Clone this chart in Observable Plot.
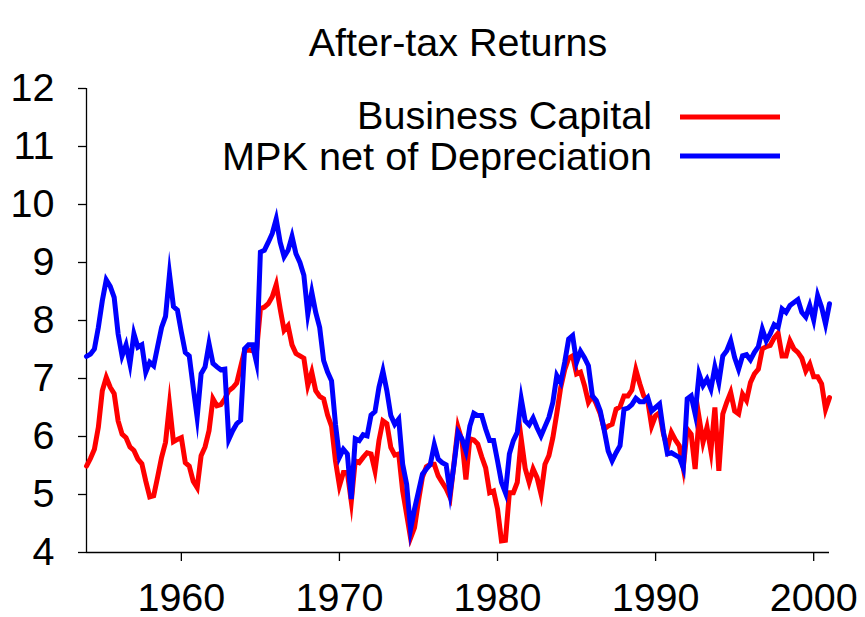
<!DOCTYPE html>
<html>
<head>
<meta charset="utf-8">
<script src="https://cdn.jsdelivr.net/npm/d3@7"></script>
<script src="https://cdn.jsdelivr.net/npm/@observablehq/plot@0.6"></script>
<style>
  html, body { margin: 0; padding: 0; background: #fff; }
  #chart { width: 865px; height: 617px; }
</style>
</head>
<body>
<div id="chart"></div>
<script>
// Quarterly series, first point = 1954 Q1 (plotted at 1954.00), step 0.25 year
const startYear = 1954;
const businessCapital = [
  5.49, 5.62, 5.78, 6.16, 6.79, 7.02, 6.85, 6.74, 6.27, 6.04,
  5.98, 5.82, 5.76, 5.61, 5.53, 5.23, 4.96, 4.98, 5.30, 5.64,
  5.90, 6.55, 5.91, 5.95, 5.98, 5.55, 5.49, 5.23, 5.12, 5.67,
  5.82, 6.10, 6.65, 6.53, 6.55, 6.65, 6.79, 6.84, 6.92, 7.20,
  7.48, 7.49, 7.48, 7.45, 8.20, 8.23, 8.29, 8.41, 8.62, 8.20,
  7.83, 7.91, 7.58, 7.43, 7.39, 7.35, 6.88, 7.11, 6.79, 6.69,
  6.65, 6.37, 6.18, 5.58, 5.15, 5.38, 5.38, 4.88, 5.58, 5.55,
  5.64, 5.72, 5.70, 5.41, 5.93, 6.27, 6.22, 5.81, 5.68, 5.70,
  5.06, 4.66, 4.25, 4.43, 4.89, 5.30, 5.48, 5.52, 5.52, 5.32,
  5.21, 5.10, 4.95, 5.55, 6.16, 5.93, 5.26, 5.96, 5.94, 5.87,
  5.65, 5.46, 5.03, 5.06, 4.75, 4.20, 4.21, 5.03, 5.03, 5.21,
  5.96, 5.45, 5.21, 5.44, 5.29, 5.01, 5.52, 5.67, 5.98, 6.40,
  6.85, 7.15, 7.35, 7.39, 7.08, 7.11, 6.88, 6.59, 6.70, 6.56,
  6.39, 6.13, 6.18, 6.21, 6.47, 6.51, 6.70, 6.70, 6.80, 7.15,
  6.91, 6.70, 6.62, 6.18, 6.36, 6.41, 6.04, 5.80, 6.07, 5.94,
  5.84, 5.46, 6.13, 6.04, 5.44, 6.33, 5.90, 6.16, 5.75, 6.50,
  5.41, 6.39, 6.59, 6.76, 6.44, 6.39, 6.73, 6.62, 6.93, 7.08,
  7.16, 7.51, 7.55, 7.57, 7.70, 7.78, 7.39, 7.39, 7.65, 7.51,
  7.45, 7.35, 7.13, 7.25, 7.03, 7.03, 6.91, 6.47, 6.67
];
const mpkNetOfDepreciation = [
  7.38, 7.42, 7.51, 7.88, 8.34, 8.70, 8.59, 8.40, 7.77, 7.39,
  7.58, 7.25, 7.77, 7.54, 7.58, 7.11, 7.28, 7.22, 7.55, 7.88,
  8.07, 8.80, 8.24, 8.18, 7.80, 7.45, 7.39, 6.85, 6.33, 7.08,
  7.20, 7.60, 7.26, 7.20, 7.15, 7.16, 5.95, 6.10, 6.22, 6.28,
  7.51, 7.58, 7.58, 7.28, 9.18, 9.21, 9.35, 9.50, 9.75, 9.35,
  9.10, 9.21, 9.45, 9.15, 9.00, 8.78, 8.11, 8.49, 8.14, 7.88,
  7.31, 7.11, 6.96, 6.21, 5.64, 5.78, 5.70, 4.92, 5.96, 5.93,
  6.03, 6.01, 6.37, 6.43, 6.85, 7.13, 6.79, 6.36, 6.21, 6.30,
  5.52, 5.18, 4.40, 4.75, 5.05, 5.35, 5.44, 5.52, 5.86, 5.61,
  5.55, 5.51, 5.03, 5.52, 6.07, 5.96, 5.75, 6.18, 6.40, 6.36,
  6.36, 6.13, 5.93, 5.93, 5.58, 5.21, 5.03, 5.70, 5.93, 6.07,
  6.65, 6.27, 6.20, 6.32, 6.15, 6.01, 6.17, 6.33, 6.59, 7.05,
  6.93, 7.28, 7.68, 7.74, 7.28, 7.47, 7.36, 7.22, 6.70, 6.62,
  6.44, 6.11, 5.75, 5.58, 5.72, 5.84, 6.47, 6.49, 6.55, 6.66,
  6.60, 6.60, 6.67, 6.44, 6.50, 6.56, 6.07, 5.70, 5.72, 5.68,
  5.64, 5.46, 6.65, 6.70, 6.39, 7.08, 6.88, 6.99, 6.82, 7.20,
  6.93, 7.39, 7.48, 7.65, 7.36, 7.16, 7.39, 7.41, 7.32, 7.45,
  7.55, 7.85, 7.65, 7.77, 7.93, 7.88, 8.20, 8.14, 8.26, 8.31,
  8.36, 8.14, 8.06, 8.26, 8.01, 8.43, 8.23, 7.94, 8.29
];
const seriesNames = ["Business Capital", "MPK net of Depreciation"];
const seriesColors = ["#ff0000", "#0000ff"];
const xTicks = [1960, 1970, 1980, 1990, 2000];
const yTicks = [4, 5, 6, 7, 8, 9, 10, 11, 12];
const titleText = "After-tax Returns";

const rows = [];
[businessCapital, mpkNetOfDepreciation].forEach((vals, s) => {
  vals.forEach((v, i) => rows.push({t: startYear + i / 4, v, series: seriesNames[s]}));
});

const W = 865, H = 617, mL = 86, mR = 36, mT = 88, mB = 65;
const font = "'Liberation Sans', Arial, Helvetica, sans-serif";
const fs = 39.5;
const legendFs = 38.5;

const chart = Plot.plot({
  width: W, height: H,
  marginLeft: mL, marginRight: mR, marginTop: mT, marginBottom: mB,
  style: {fontFamily: font, color: "#000", background: "#fff", overflow: "visible"},
  x: {domain: [1954, 2001]},
  y: {domain: [4, 12]},
  color: {domain: seriesNames, range: seriesColors},
  marks: [
    Plot.axisX({ticks: xTicks, tickFormat: d => String(d), tickSize: 9, tickPadding: 21, fontSize: fs, label: null, strokeWidth: 1.3}),
    Plot.axisY({ticks: yTicks, tickSize: 8, tickPadding: 24, fontSize: fs, label: null, strokeWidth: 1.3}),
    Plot.ruleX([1954], {strokeWidth: 1.3}),
    Plot.ruleY([4], {strokeWidth: 1.3}),
    Plot.line(rows, {x: "t", y: "v", z: "series", stroke: "series", strokeWidth: 5, strokeLinejoin: "miter", strokeMiterlimit: 10}),
    Plot.text([titleText], {frameAnchor: "top", dy: -61, fontSize: fs})
  ]
});

// Legend (top right, inside the frame)
const svg = d3.select(chart);
const fr = W - mR;
const leg = svg.append("g").attr("font-family", font).attr("font-size", legendFs);
seriesNames.forEach((name, i) => {
  const y = 117 + i * 39;
  leg.append("text").attr("x", 652).attr("y", y + (i === 0 ? -1 : 1)).attr("dy", "0.35em")
     .attr("text-anchor", "end").attr("fill", "#000")
     .attr("textLength", i === 0 ? 295 : 430).attr("lengthAdjust", "spacingAndGlyphs")
     .text(name);
  leg.append("line").attr("x1", 680).attr("x2", fr - 49).attr("y1", y).attr("y2", y)
     .attr("stroke", seriesColors[i]).attr("stroke-width", 5);
});

document.getElementById("chart").appendChild(chart);
</script>
</body>
</html>
